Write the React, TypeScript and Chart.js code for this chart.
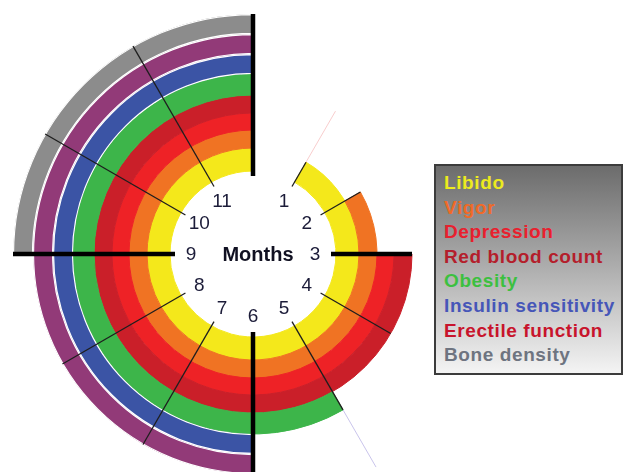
import React, { useEffect, useRef } from 'react';
import { Chart, registerables } from 'chart.js';
Chart.register(...registerables);

// ---- data ----
const seriesNames = ['Libido', 'Vigor', 'Depression', 'Red blood count', 'Obesity', 'Insulin sensitivity', 'Erectile function', 'Bone density'];
const startMonths = [1, 2, 3, 3, 5, 6, 6, 9];
const monthLabels = ['1', '2', '3', '4', '5', '6', '7', '8', '9', '10', '11'];
const centerLabel = 'Months';
const TOTAL_MONTHS = 12;

// ---- styles ----
const ringColors = ['#F4E81B', '#F07323', '#EE2226', '#CA1F29', '#3DB54A', '#3B54A5', '#923A78', '#8C8C8C'];
const legendColors = ['#ECEA1E', '#F06A28', '#E8202E', '#B41E2C', '#3CC040', '#4656B8', '#C8142C', '#6E7480'];
const ringThickness = [23, 18, 17, 18, 21, 20, 20, 20];
const whiteGap = [false, false, false, false, false, true, true, true];

const n = seriesNames.length;

const spokesPlugin = {
  id: 'spokes',
  afterDatasetsDraw(chart: any) {
    const ctx = chart.ctx;
    const ca = chart.chartArea;
    const cx = (ca.left + ca.right) / 2;
    const cy = (ca.top + ca.bottom) / 2;
    const outerAt = (m: number) => {
      let r = 0;
      const mm = m === 0 ? TOTAL_MONTHS : m;
      for (let i = 0; i < n; i++) {
        if (startMonths[i] <= mm) {
          const meta = chart.getDatasetMeta(n - 1 - i);
          const arc = meta.data[1] as any;
          if (arc && arc.outerRadius > r) r = arc.outerRadius;
        }
      }
      return r;
    };
    ctx.save();
    ctx.lineCap = 'butt';
    for (let m = 0; m < TOTAL_MONTHS; m++) {
      const th = (m / TOTAL_MONTHS) * Math.PI * 2 - Math.PI / 2;
      const r0 = 78;
      const r1 = outerAt(m);
      const thick = m % 3 === 0;
      ctx.beginPath();
      ctx.strokeStyle = thick ? '#000000' : '#1e1e1e';
      ctx.lineWidth = thick ? 4.5 : 1.3;
      ctx.moveTo(cx + r0 * Math.cos(th), cy + r0 * Math.sin(th));
      ctx.lineTo(cx + r1 * Math.cos(th), cy + r1 * Math.sin(th));
      ctx.stroke();
    }
    // faint extension strokes
    const faint = (m: number, rEnd: number, color: string) => {
      const th = (m / TOTAL_MONTHS) * Math.PI * 2 - Math.PI / 2;
      const r1 = outerAt(m);
      ctx.beginPath();
      ctx.strokeStyle = color;
      ctx.lineWidth = 0.8;
      ctx.moveTo(cx + r1 * Math.cos(th), cy + r1 * Math.sin(th));
      ctx.lineTo(cx + rEnd * Math.cos(th), cy + rEnd * Math.sin(th));
      ctx.stroke();
    };
    faint(1, 165, 'rgba(240,140,140,0.55)');
    faint(5, 246, 'rgba(130,120,210,0.55)');

    // month labels
    ctx.fillStyle = '#1b1b38';
    ctx.textAlign = 'center';
    ctx.textBaseline = 'middle';
    ctx.font = '19px "Liberation Sans", Arial, sans-serif';
    monthLabels.forEach((lab, k) => {
      const m = k + 1;
      const th = (m / TOTAL_MONTHS) * Math.PI * 2 - Math.PI / 2;
      const r = 62;
      ctx.fillText(lab, cx + r * Math.cos(th), cy + r * Math.sin(th) + 1);
    });
    ctx.font = 'bold 20px "Liberation Sans", Arial, sans-serif';
    ctx.fillStyle = '#111122';
    ctx.fillText(centerLabel, cx + 5, cy + 1);
    ctx.restore();
  },
};

export default function App() {
  const ref = useRef<HTMLCanvasElement>(null);
  useEffect(() => {
    if (!ref.current) return;
    const datasets = seriesNames
      .map((name, i) => ({
        label: name,
        data: [startMonths[i], TOTAL_MONTHS - startMonths[i]],
        backgroundColor: ['rgba(0,0,0,0)', ringColors[i]],
        borderColor: ['rgba(0,0,0,0)', whiteGap[i] ? '#ffffff' : ringColors[i]],
        borderWidth: [0, whiteGap[i] ? 0.8 : 1],
        borderAlign: (whiteGap[i] ? 'inner' : 'center') as any,
        weight: ringThickness[i],
      }))
      .reverse();
    const chart = new Chart(ref.current, {
      type: 'doughnut',
      data: { labels: ['before', 'active'], datasets },
      options: {
        responsive: false,
        animation: false,
        cutout: 83,
        events: [],
        layout: { padding: 20 },
        plugins: { legend: { display: false }, tooltip: { enabled: false } },
      },
      plugins: [spokesPlugin],
    });
    return () => chart.destroy();
  }, []);

  return (
    <div style={{ position: 'fixed', left: 0, top: 0, width: 624, height: 472, overflow: 'hidden', background: '#ffffff' }}>
      <canvas ref={ref} width={520} height={520} style={{ position: 'absolute', left: -7, top: -6, width: 520, height: 520 }} />
      <div
        style={{
          position: 'absolute',
          left: 434,
          top: 164,
          width: 189,
          height: 211,
          boxSizing: 'border-box',
          border: '2px solid #3c3c3c',
          background: 'linear-gradient(180deg, #6c6c6c 0%, #a8a8a8 45%, #f4f4f4 100%)',
          paddingLeft: 8,
          paddingTop: 5,
          fontFamily: '"Liberation Sans", Arial, sans-serif',
          fontWeight: 'bold',
          fontSize: 19,
          letterSpacing: 0.6,
          lineHeight: '24.6px',
          whiteSpace: 'nowrap',
        }}
      >
        {seriesNames.map((name, i) => (
          <div key={name} style={{ color: legendColors[i] }}>{name}</div>
        ))}
      </div>
    </div>
  );
}
